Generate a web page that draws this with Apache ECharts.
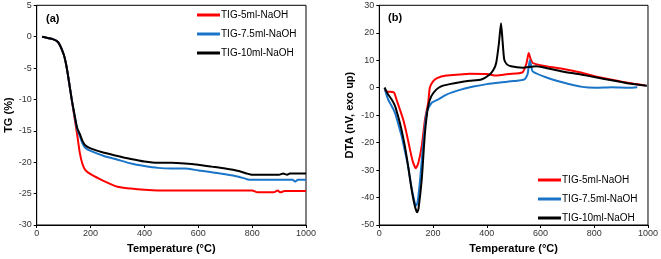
<!DOCTYPE html>
<html><head><meta charset="utf-8">
<script src="https://cdn.jsdelivr.net/npm/echarts@6/dist/echarts.min.js"></script>
<style>html,body{margin:0;padding:0;background:#fff}#c{width:661px;height:259px}</style>
</head><body><div id="c"></div>
<script>
const seriesNames = ['TIG-5ml-NaOH', 'TIG-7.5ml-NaOH', 'TIG-10ml-NaOH'];
const xTicks = [0, 200, 400, 600, 800, 1000];
const tgYTicks = [5, 0, -5, -10, -15, -20, -25, -30];
const dtaYTicks = [30, 20, 10, 0, -10, -20, -30, -40, -50];

// TG (%) vs temperature
const tgRed = [[20,0],[40,-0.2],[60,-0.4],[80,-0.9],[100,-2.8],[110,-4.6],[120,-7.2],[130,-10],[140,-12.8],[150,-15.5],[160,-18.5],[170,-20.3],[180,-21.2],[200,-21.9],[250,-23],[300,-23.9],[350,-24.2],[400,-24.4],[450,-24.5],[600,-24.5],[800,-24.5],[820,-24.8],[880,-24.8],[895,-24.5],[905,-24.8],[920,-24.6],[1000,-24.6]];
const tgBlue = [[20,0],[40,-0.2],[60,-0.4],[80,-0.9],[100,-2.8],[110,-4.6],[120,-7.2],[130,-10],[140,-12.5],[150,-14.7],[160,-15.8],[170,-17],[180,-17.7],[200,-18.2],[250,-19],[300,-19.6],[350,-20.2],[400,-20.6],[450,-20.9],[500,-21],[550,-21],[600,-21.3],[650,-21.6],[700,-21.9],[750,-22.3],[780,-22.7],[800,-22.8],[950,-22.8],[960,-23.1],[970,-22.8],[1000,-22.8]];
const tgBlack = [[20,0],[40,-0.2],[60,-0.4],[80,-0.9],[100,-2.8],[110,-4.6],[120,-7.2],[130,-10],[140,-12.3],[150,-14.5],[160,-15.5],[170,-16.6],[180,-17.3],[200,-17.8],[250,-18.5],[300,-19],[350,-19.5],[400,-19.9],[450,-20.1],[500,-20.1],[550,-20.2],[600,-20.4],[650,-20.7],[700,-21],[750,-21.4],[780,-21.8],[800,-22],[850,-22],[900,-22],[915,-21.8],[930,-22],[940,-21.8],[1000,-21.8]];

// DTA vs temperature
const dtaRed = [[20,0],[25,-1.5],[40,-1.5],[55,-1.8],[64,-4.3],[75,-7.5],[89,-11.6],[100,-16],[114,-22.4],[125,-27],[136,-29.3],[145,-27.5],[158,-21.2],[170,-11.6],[182,-5.5],[188,0],[200,2.3],[215,3.5],[250,4.4],[300,4.8],[336,5.1],[400,5],[435,4.4],[480,5],[533,5.6],[548,9],[556,12.6],[563,10.5],[571,9],[600,8.2],[620,7.8],[681,6.9],[750,5.5],[805,4.1],[870,2.8],[929,1.7],[990,0.8]];
const dtaBlue = [[20,0],[25,-2],[33,-4.3],[45,-6.5],[58,-9.1],[70,-13],[83,-17.6],[95,-23],[107,-28.5],[116,-34],[126,-39.3],[136,-43],[142,-42],[151,-34.4],[163,-21],[176,-9.1],[194,-5.6],[219,-4.3],[250,-2.5],[300,-0.8],[350,0.4],[400,1.3],[450,1.9],[500,2.4],[540,3],[552,5],[560,10],[566,7.5],[571,5.9],[620,3.8],[681,2],[756,0.3],[805,0],[867,0.2],[929,0],[960,0.2]];
const dtaBlack = [[20,0],[30,-2],[46,-4.3],[58,-6.5],[70,-10.4],[82,-15],[95,-21.2],[108,-29],[120,-36.9],[132,-43],[141,-45.4],[146,-44],[158,-33.3],[170,-16.4],[182,-6.7],[194,-3],[212,-0.7],[230,0.5],[262,1.3],[300,2.0],[336,2.5],[380,3.0],[410,4.7],[425,6.5],[435,9],[445,16],[453,23.5],[458,18],[465,10.2],[475,8.5],[490,7.8],[533,7.3],[583,7.8],[620,7.2],[681,5.9],[750,4.8],[805,3.8],[870,2.6],[929,1.5],[996,0.7]];

const colors = ['#ff0000', '#1a75c9', '#000000'];
const FONT = 'Liberation Sans, Arial, sans-serif';
const tickFont = {fontFamily: FONT, fontSize: 9, color: '#333'};
const nameFont = {fontFamily: FONT, fontSize: 11, fontWeight: 'bold', color: '#000'};

function xAxis(gi) {
  return {type: 'value', gridIndex: gi, min: xTicks[0], max: xTicks[xTicks.length-1], interval: xTicks[1]-xTicks[0],
    name: 'Temperature (°C)', nameLocation: 'middle', nameGap: 18, nameTextStyle: nameFont,
    axisLine: {show: true, onZero: false, lineStyle: {color: '#000', width: 1}},
    axisTick: {show: true, inside: false, length: 3, lineStyle: {color: '#000'}},
    axisLabel: Object.assign({margin: 4, showMinLabel: true, showMaxLabel: true, hideOverlap: false, formatter: v => String(v)}, tickFont), splitLine: {show: false}};
}
function yAxis(gi, ticks, name, gap) {
  const mn = ticks[ticks.length-1], mx = ticks[0];
  return {type: 'value', gridIndex: gi, min: mn, max: mx, interval: ticks[0]-ticks[1],
    name: name, nameLocation: 'middle', nameGap: gap, nameRotate: 90, nameTextStyle: nameFont,
    axisLine: {show: true, onZero: false, lineStyle: {color: '#000', width: 1}},
    axisTick: {show: true, inside: false, length: 3, lineStyle: {color: '#000'}},
    axisLabel: Object.assign({margin: 5, showMinLabel: true, showMaxLabel: true, hideOverlap: false, formatter: v => String(v)}, tickFont), splitLine: {show: false}};
}
function line(name, data, color, xi, yi) {
  return {type: 'line', name: name, data: data, xAxisIndex: xi, yAxisIndex: yi, showSymbol: false, symbol: 'none',
    smooth: 0.2, lineStyle: {color: color, width: 2}, itemStyle: {color: color}, animation: false};
}
const legendCommon = {orient: 'vertical', icon: 'rect', itemWidth: 23, itemHeight: 3, itemGap: 7,
  textStyle: {fontFamily: FONT, fontSize: 10, lineHeight: 12, color: '#000', padding: [0, 0, 0, -4]},
  data: seriesNames, padding: 0};

const chart = echarts.init(document.getElementById('c'), null, {renderer: 'canvas'});
chart.setOption({
  animation: false,
  backgroundColor: '#fff',
  grid: [
    {left: 36.7, right: 355, top: 5.3, bottom: 33, show: true, borderColor: '#000', borderWidth: 1, backgroundColor: 'transparent'},
    {left: 379.3, right: 11.7, top: 5.3, bottom: 33, show: true, borderColor: '#000', borderWidth: 1, backgroundColor: 'transparent'}
  ],
  xAxis: [xAxis(0), xAxis(1)],
  yAxis: [yAxis(0, tgYTicks, 'TG (%)', 22), yAxis(1, dtaYTicks, 'DTA (nV, exo up)', 24)],
  legend: [
    Object.assign({}, legendCommon, {left: 197, top: 9}),
    Object.assign({}, legendCommon, {left: 538, top: 174})
  ],
  graphic: [
    {type: 'text', left: 46, top: 13, style: {text: '(a)', font: 'bold 11px Liberation Sans', fill: '#000'}},
    {type: 'text', left: 388, top: 12, style: {text: '(b)', font: 'bold 11px Liberation Sans', fill: '#000'}}
  ],
  series: [
    line(seriesNames[0], tgRed, colors[0], 0, 0),
    line(seriesNames[1], tgBlue, colors[1], 0, 0),
    line(seriesNames[2], tgBlack, colors[2], 0, 0),
    line(seriesNames[0], dtaRed, colors[0], 1, 1),
    line(seriesNames[1], dtaBlue, colors[1], 1, 1),
    line(seriesNames[2], dtaBlack, colors[2], 1, 1)
  ]
});
</script></body></html>
